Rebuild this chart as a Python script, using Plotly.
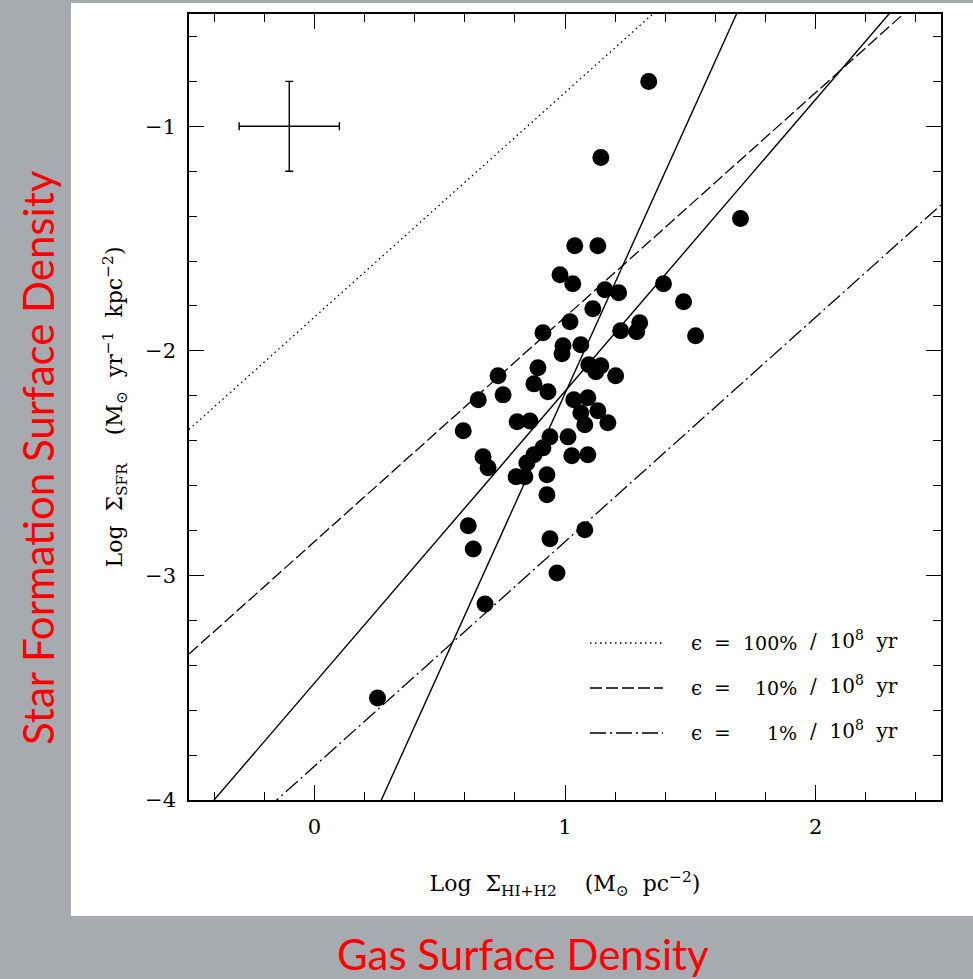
import plotly.graph_objects as go

# Kennicutt-style star formation law: disk-averaged gas vs. SFR surface density
log_gas = [1.334, 1.143, 1.039, 1.131, 1.700, 1.393, 1.473, 1.521, 0.980, 1.031,
           1.159, 1.214, 1.111, 1.020, 0.912, 1.222, 1.298, 1.286, 0.992, 0.988,
           1.063, 1.095, 1.143, 1.123, 1.202, 0.733, 0.892, 0.876, 0.932, 0.753,
           0.654, 0.594, 0.809, 0.860, 1.035, 1.091, 1.063, 1.131, 1.079, 1.171,
           0.940, 1.012, 0.673, 0.693, 0.912, 0.876, 0.848, 0.805, 0.840, 1.027,
           1.091, 0.928, 0.928, 0.614, 0.634, 0.940, 1.079, 0.968, 0.681, 0.252]
log_sfr = [-0.801, -1.139, -1.532, -1.532, -1.411, -1.701, -1.781, -1.933, -1.661, -1.701,
           -1.728, -1.741, -1.812, -1.870, -1.919, -1.910, -1.875, -1.915, -1.977, -2.013,
           -1.973, -2.062, -2.066, -2.093, -2.111, -2.111, -2.075, -2.147, -2.182, -2.196,
           -2.218, -2.356, -2.316, -2.312, -2.218, -2.209, -2.276, -2.267, -2.329, -2.320,
           -2.383, -2.383, -2.472, -2.521, -2.432, -2.463, -2.499, -2.561, -2.561, -2.467,
           -2.463, -2.552, -2.641, -2.779, -2.882, -2.837, -2.797, -2.989, -3.127, -3.546]

# Power-law fits (log SFR = slope * log gas + intercept)
fit_slopes = [2.47, 1.30]
fit_intercepts = [-4.66, -3.48]

# Constant-efficiency lines (slope 1)
eff_labels = ["100%", "10%", "1%"]
eff_offsets = [-1.85, -2.85, -3.85]
eff_dashes = ["1.5px,3.5px", "12px,4px", "16px,4px,2px,4px"]

# Typical error bar
err_x, err_y, err_size = [-0.1], [-1.0], 0.2

x_range = [-0.5, 2.5]
y_range = [-4.0, -0.5]
x_ticks = [0, 1, 2]
y_ticks = [-4, -3, -2, -1]

W, H = 973, 979
ML, MR, MT, MB = 189, 32, 14, 179
PW, PH = W - ML - MR, H - MT - MB


def px_x(px):
    return (px - ML) / PW


def px_y(py):
    return (H - MB - py) / PH


SERIF = "DejaVu Serif"
NB = "\u00a0"
fig = go.Figure()

for name, off, dash in zip(eff_labels, eff_offsets, eff_dashes):
    fig.add_trace(go.Scatter(x=x_range, y=[x + off for x in x_range], mode="lines",
                             line=dict(color="black", width=1.3, dash=dash),
                             showlegend=False, hoverinfo="skip"))

for m, b in zip(fit_slopes, fit_intercepts):
    fig.add_trace(go.Scatter(x=x_range, y=[m * x + b for x in x_range], mode="lines",
                             line=dict(color="black", width=1.4),
                             showlegend=False, hoverinfo="skip"))

fig.add_trace(go.Scatter(x=log_gas, y=log_sfr, mode="markers",
                         marker=dict(color="black", size=17, line=dict(width=0)),
                         showlegend=False))

fig.add_trace(go.Scatter(x=err_x, y=err_y, mode="markers",
                         marker=dict(size=0.1, color="black"),
                         error_x=dict(type="constant", value=err_size, color="black",
                                      thickness=1.4, width=4),
                         error_y=dict(type="constant", value=err_size, color="black",
                                      thickness=1.4, width=4),
                         showlegend=False, hoverinfo="skip"))

axis_common = dict(showgrid=False, zeroline=False, showline=True, linecolor="black",
                   linewidth=1.5, mirror="ticks", ticks="inside", ticklen=15,
                   tickwidth=1.4, tickcolor="black", ticklabelstandoff=7,
                   tickfont=dict(family=SERIF, size=21, color="black"),
                   minor=dict(ticks="inside", ticklen=8, tickwidth=1.2, tickcolor="black",
                              dtick=0.2, showgrid=False))

title_font = dict(family=SERIF, size=22, color="black")
fig.update_xaxes(range=x_range, tickvals=x_ticks, **axis_common,
                 title=dict(text=f"Log{NB*2}Σ<sub>HI+H2</sub>{NB*4}(M<sub>⊙</sub>{NB*2}pc<sup>−2</sup>)",
                            font=title_font, standoff=38))
fig.update_yaxes(range=y_range, tickvals=y_ticks, **axis_common,
                 title=dict(text=f"Log{NB*2}Σ<sub>SFR</sub>{NB*4}(M<sub>⊙</sub>{NB*2}yr<sup>−1</sup>{NB*2}kpc<sup>−2</sup>)",
                            font=title_font, standoff=16))

shapes = [dict(type="rect", xref="paper", yref="paper", x0=px_x(71), x1=px_x(990),
               y0=px_y(916), y1=px_y(3), fillcolor="white", line=dict(width=0), layer="below")]
annotations = []
legend_rows = [643, 688, 733]
leg_font = dict(family=SERIF, size=20, color="black")
for name, dash, row in zip(eff_labels, eff_dashes, legend_rows):
    shapes.append(dict(type="line", xref="paper", yref="paper", x0=px_x(590), x1=px_x(663),
                       y0=px_y(row), y1=px_y(row), line=dict(color="black", width=1.3, dash=dash)))
    annotations.append(dict(xref="paper", yref="paper", x=px_x(696), y=px_y(row), text="ϵ",
                            showarrow=False, xanchor="center", yanchor="middle", font=leg_font))
    annotations.append(dict(xref="paper", yref="paper", x=px_x(722), y=px_y(row), text="=",
                            showarrow=False, xanchor="center", yanchor="middle", font=leg_font))
    annotations.append(dict(xref="paper", yref="paper", x=px_x(799), y=px_y(row), text=name,
                            showarrow=False, xanchor="right", yanchor="middle",
                            font=dict(family=SERIF, size=19, color="black")))
    annotations.append(dict(xref="paper", yref="paper", x=px_x(808), y=px_y(row - 3),
                            text=f"/{NB*2}10<sup>8</sup>{NB*2}yr",
                            showarrow=False, xanchor="left", yanchor="middle", font=leg_font))

red = dict(family="Lato", size=42, color="#ff0000")
annotations.append(dict(xref="paper", yref="paper", x=px_x(38), y=px_y(458),
                        text="Star Formation Surface Density", textangle=-90,
                        showarrow=False, xanchor="center", yanchor="middle", font=red))
annotations.append(dict(xref="paper", yref="paper", x=px_x(523), y=px_y(954),
                        text="Gas Surface Density", showarrow=False,
                        xanchor="center", yanchor="middle", font=red))

fig.update_layout(width=W, height=H, margin=dict(l=ML, r=MR, t=MT, b=MB),
                  paper_bgcolor="#a7abb0", plot_bgcolor="white",
                  shapes=shapes, annotations=annotations)

fig.write_html("out.html")
